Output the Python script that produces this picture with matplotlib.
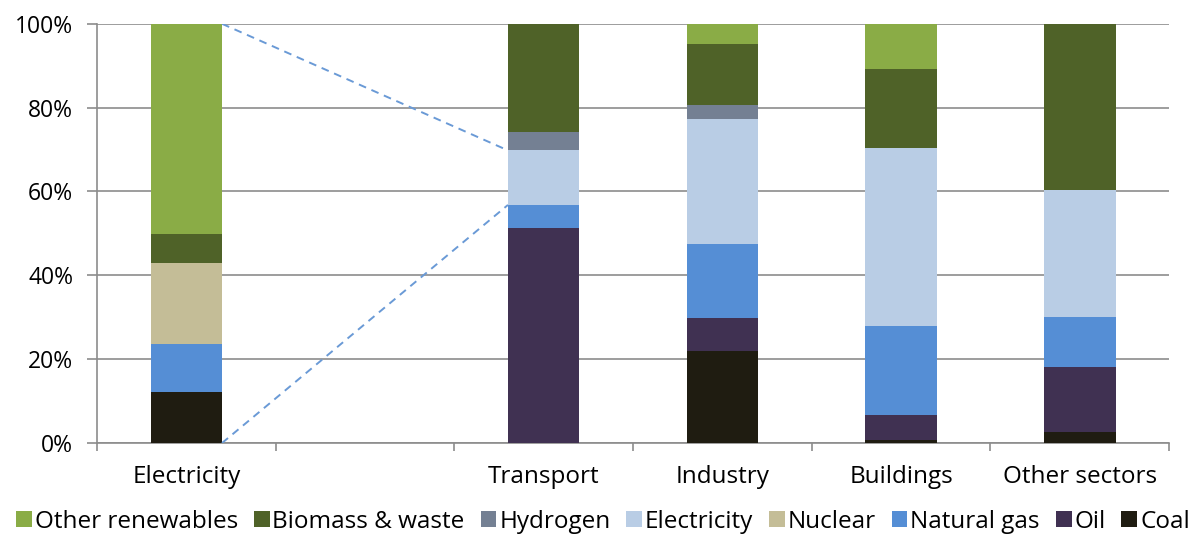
import numpy as np
import matplotlib
matplotlib.use("Agg")
from matplotlib import pyplot as plt

# sectors (second slot is a spacer)
sectors = ["Electricity", "", "Transport", "Industry", "Buildings", "Other sectors"]

# shares by fuel [%], stacked bottom to top
coal = [12.1, 0, 0.0, 22.0, 0.8, 2.6]
oil = [0.0, 0, 51.3, 7.9, 5.8, 15.5]
natural_gas = [11.5, 0, 5.5, 17.5, 21.4, 11.9]
nuclear = [19.4, 0, 0.0, 0.0, 0.0, 0.0]
electricity = [0.0, 0, 13.0, 29.8, 42.4, 30.3]
hydrogen = [0.0, 0, 4.5, 3.4, 0.0, 0.0]
biomass = [6.9, 0, 25.7, 14.6, 18.8, 39.7]
other_renew = [50.1, 0, 0.0, 4.8, 10.8, 0.0]

series = [
    ("Coal", coal, "#1f1c11"),
    ("Oil", oil, "#403152"),
    ("Natural gas", natural_gas, "#558ed5"),
    ("Nuclear", nuclear, "#c4bd97"),
    ("Electricity", electricity, "#b9cde5"),
    ("Hydrogen", hydrogen, "#748093"),
    ("Biomass & waste", biomass, "#4f6228"),
    ("Other renewables", other_renew, "#8aac46"),
]

plt.rcParams["font.family"] = ["Open Sans", "DejaVu Sans"]
grey = "#8c8c8c"

fig = plt.figure(figsize=(11.94, 5.34), dpi=100)
ax = fig.add_axes([0.0812, 0.1704, 0.898, 0.785])

x = np.arange(len(sectors))
width = 0.4
bottom = np.zeros(len(sectors))
handles = {}
for name, vals, color in series:
    vals = np.array(vals)
    h = ax.bar(x, vals, width, bottom=bottom, color=color, label=name, zorder=3)
    handles[name] = h
    bottom += vals

# dashed lines linking electricity generation to the transport electricity share
t = 2
el_lo = coal[t] + oil[t] + natural_gas[t] + nuclear[t]
el_hi = el_lo + electricity[t]
ax.plot([width / 2, t - width / 2], [100, el_hi], ls=(0, (4, 3)), color="#6a9ad6", lw=1.4, zorder=4)
ax.plot([width / 2, t - width / 2], [0, el_lo], ls=(0, (4, 3)), color="#6a9ad6", lw=1.4, zorder=4)

ax.set_xlim(-0.5, len(sectors) - 0.5)
ax.set_ylim(0, 100)
ax.set_yticks(np.arange(0, 101, 20))
ax.set_yticklabels([f"{v}%" for v in range(0, 101, 20)], fontsize=16.5)
ax.yaxis.grid(True, color=grey, lw=1.2, zorder=0)
ax.tick_params(axis="y", length=7, color=grey, width=1.2, pad=10)

ax.set_xticks(x)
ax.set_xticklabels(sectors, fontsize=17.5)
ax.set_xticks(np.arange(-0.5, len(sectors)), minor=True)
ax.tick_params(axis="x", which="major", length=0, pad=16)
ax.tick_params(axis="x", which="minor", length=6, color=grey, width=1.2)

for s in ["top", "right"]:
    ax.spines[s].set_visible(False)
for s in ["left", "bottom"]:
    ax.spines[s].set_color(grey)
    ax.spines[s].set_linewidth(1.2)

order = ["Other renewables", "Biomass & waste", "Hydrogen", "Electricity",
         "Nuclear", "Natural gas", "Oil", "Coal"]
fig.legend([handles[n] for n in order], order, loc="center", bbox_to_anchor=(0.505, 0.023),
           ncol=8, frameon=False, fontsize=17.5, handlelength=0.65, handleheight=0.65,
           handletextpad=0.12, columnspacing=0.65, borderpad=0)

fig.savefig("out.png", dpi=100)
